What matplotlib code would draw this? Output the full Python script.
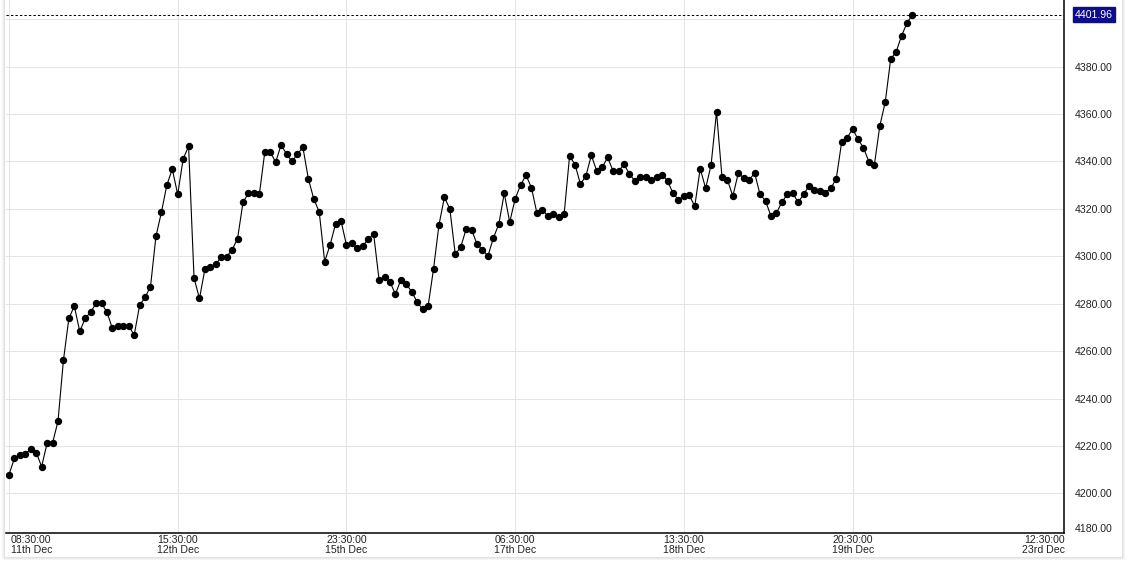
import matplotlib
matplotlib.use("Agg")
import matplotlib.pyplot as plt
import matplotlib.transforms as mtransforms
from matplotlib.lines import Line2D

# ---- data ----
prices = [
    4207.9, 4214.8, 4216.3, 4216.8, 4218.6, 4217.2, 4211.3, 4221.2, 4221.2, 4230.4,
    4256.1, 4273.8, 4279.0, 4268.3, 4273.8, 4276.4, 4280.2, 4280.2, 4276.4, 4269.6,
    4270.8, 4270.5, 4270.8, 4266.7, 4279.3, 4282.7, 4287.2, 4308.4, 4318.5, 4330.0,
    4336.8, 4326.1, 4341.1, 4346.4, 4290.8, 4282.2, 4294.6, 4295.5, 4296.7, 4299.6,
    4299.9, 4302.7, 4307.5, 4322.8, 4326.6, 4326.9, 4326.1, 4344.0, 4344.0, 4339.7,
    4347.0, 4343.1, 4340.0, 4343.1, 4346.0, 4332.7, 4324.2, 4318.7, 4297.8, 4304.8,
    4313.6, 4315.0, 4304.8, 4305.6, 4303.4, 4304.3, 4307.2, 4309.4, 4290.0, 4291.4,
    4289.2, 4284.0, 4290.1, 4288.3, 4285.0, 4280.7, 4277.6, 4278.9, 4294.6, 4313.2,
    4324.9, 4320.0, 4300.8, 4303.9, 4311.5, 4311.2, 4305.1, 4302.7, 4300.1, 4307.7,
    4313.6, 4326.6, 4314.4, 4324.2, 4330.1, 4334.2, 4328.9, 4318.2, 4319.7, 4317.0,
    4317.8, 4316.4, 4317.8, 4342.3, 4338.7, 4330.4, 4333.9, 4342.6, 4335.9, 4337.6,
    4341.7, 4335.9, 4335.9, 4338.8, 4334.7, 4331.8, 4333.5, 4333.5, 4332.2, 4333.6,
    4334.4, 4331.8, 4326.6, 4323.9, 4325.4, 4325.7, 4321.1, 4337.0, 4328.7, 4338.5,
    4360.9, 4333.5, 4332.2, 4325.4, 4335.1, 4333.0, 4332.2, 4335.1, 4326.1, 4323.4,
    4317.0, 4318.2, 4322.8, 4326.1, 4326.6, 4322.8, 4326.1, 4329.7, 4328.0, 4327.5,
    4326.9, 4328.7, 4332.7, 4348.3, 4349.9, 4353.8, 4349.3, 4345.8, 4339.9, 4338.5,
    4355.0, 4365.0, 4383.2, 4386.2, 4393.0, 4398.4, 4401.96,
]
last_price = 4401.96
x_tick_pos = [0, 31, 62, 93, 124, 155, 193.9]
x_tick_labels = ["08:30:00\n11th Dec", "15:30:00\n12th Dec", "23:30:00\n15th Dec",
                 "06:30:00\n17th Dec", "13:30:00\n18th Dec", "20:30:00\n19th Dec",
                 "12:30:00\n23rd Dec"]
y_ticks = [4200, 4220, 4240, 4260, 4280, 4300, 4320, 4340, 4360, 4380, 4400]
y_bottom_label = 4180

plt.rcParams['font.family'] = ['Liberation Sans', 'DejaVu Sans']

W, H = 1142, 566
fig = plt.figure(figsize=(W / 100, H / 100), dpi=100)
fig.patch.set_facecolor("white")

# container shadow
def fl(x0, y0, x1, y1, c):
    fig.add_artist(Line2D([x0 / W, x1 / W], [1 - y0 / H, 1 - y1 / H], color=c, lw=0.75,
                          transform=fig.transFigure))
for k, c in enumerate(["#e2e2e2", "#ececec", "#f5f5f5"]):
    fl(1122 + k, 0, 1122 + k, 557 + k, c)
    fl(4 + 0, 557 + k, 1122 + k, 557 + k, c)
    fl(4 - k, 0, 4 - k, 557, c)

left_px, right_px, bottom_px, top_px = 6, 1064.3, 532.5, 0
ax = fig.add_axes([left_px / W, 1 - bottom_px / H, (right_px - left_px) / W,
                   (bottom_px - top_px) / H])
ax.set_facecolor("white")

x = list(range(len(prices)))
ax.plot(x, prices, color="black", lw=0.8, marker="o", ms=4.3, mfc="black",
        mec="black", zorder=3)

ax.set_xlim(-0.55, 193.9)
ax.set_ylim(4183.5, 4408.1)

# grid
for xv in x_tick_pos[:-1]:
    ax.axvline(xv, color="#e4e4e4", lw=0.75, zorder=0)
for yv in y_ticks:
    ax.axhline(yv, color="#e4e4e4", lw=0.75, zorder=0)

# last price dashed line
ax.axhline(last_price, color="black", lw=0.75, ls=(0, (2.3, 2.0)), zorder=2)

for s in ["left", "top"]:
    ax.spines[s].set_visible(False)
for s in ["bottom", "right"]:
    ax.spines[s].set_color("black")
    ax.spines[s].set_linewidth(1.1)

ax.set_xticks([])
ax.yaxis.tick_right()
ax.set_yticks(y_ticks)
ax.set_yticklabels([f"{v:.2f}" if v != 4400 else "" for v in y_ticks])
ax.tick_params(axis="y", length=0, pad=7.7, labelsize=7.6, labelcolor="#222222")

# bottom y label (clamped)
ax.text(1.0, 4185.0, f"{y_bottom_label:.2f}", transform=mtransforms.blended_transform_factory(ax.transAxes, ax.transData),
        ha="left", va="center", fontsize=7.6, color="#222222")
# shift by offset
ax.texts[-1].set_transform(mtransforms.offset_copy(
    mtransforms.blended_transform_factory(ax.transAxes, ax.transData), fig=fig, x=7.7, y=0, units="points"))

# last price label box
lbl_tr = mtransforms.offset_copy(
    mtransforms.blended_transform_factory(ax.transAxes, ax.transData), fig=fig, x=7.7, y=0, units="points")
ax.text(1.0, last_price, f"{last_price:.2f}", transform=lbl_tr, ha="left", va="center",
        fontsize=7.6, color="white",
        bbox=dict(boxstyle="square,pad=0.22", fc="#0c0c8c", ec="#0c0c8c"))

# x tick labels
xtr = mtransforms.blended_transform_factory(ax.transData, ax.transAxes)
for i, (pos, lab) in enumerate(zip(x_tick_pos, x_tick_labels)):
    if i == 0:
        ha = "left"
        tr = mtransforms.offset_copy(xtr, fig=fig, x=1.4, y=-2.0, units="points")
    elif i == len(x_tick_pos) - 1:
        ha = "right"
        tr = mtransforms.offset_copy(xtr, fig=fig, x=0.5, y=-2.0, units="points")
    else:
        ha = "center"
        tr = mtransforms.offset_copy(xtr, fig=fig, x=0, y=-2.0, units="points")
    ax.text(pos, 0, lab, transform=tr, ha=ha, va="top", fontsize=7.6,
            color="#222222", linespacing=0.95, clip_on=False)

fig.savefig("out.png", dpi=100, facecolor="white")
